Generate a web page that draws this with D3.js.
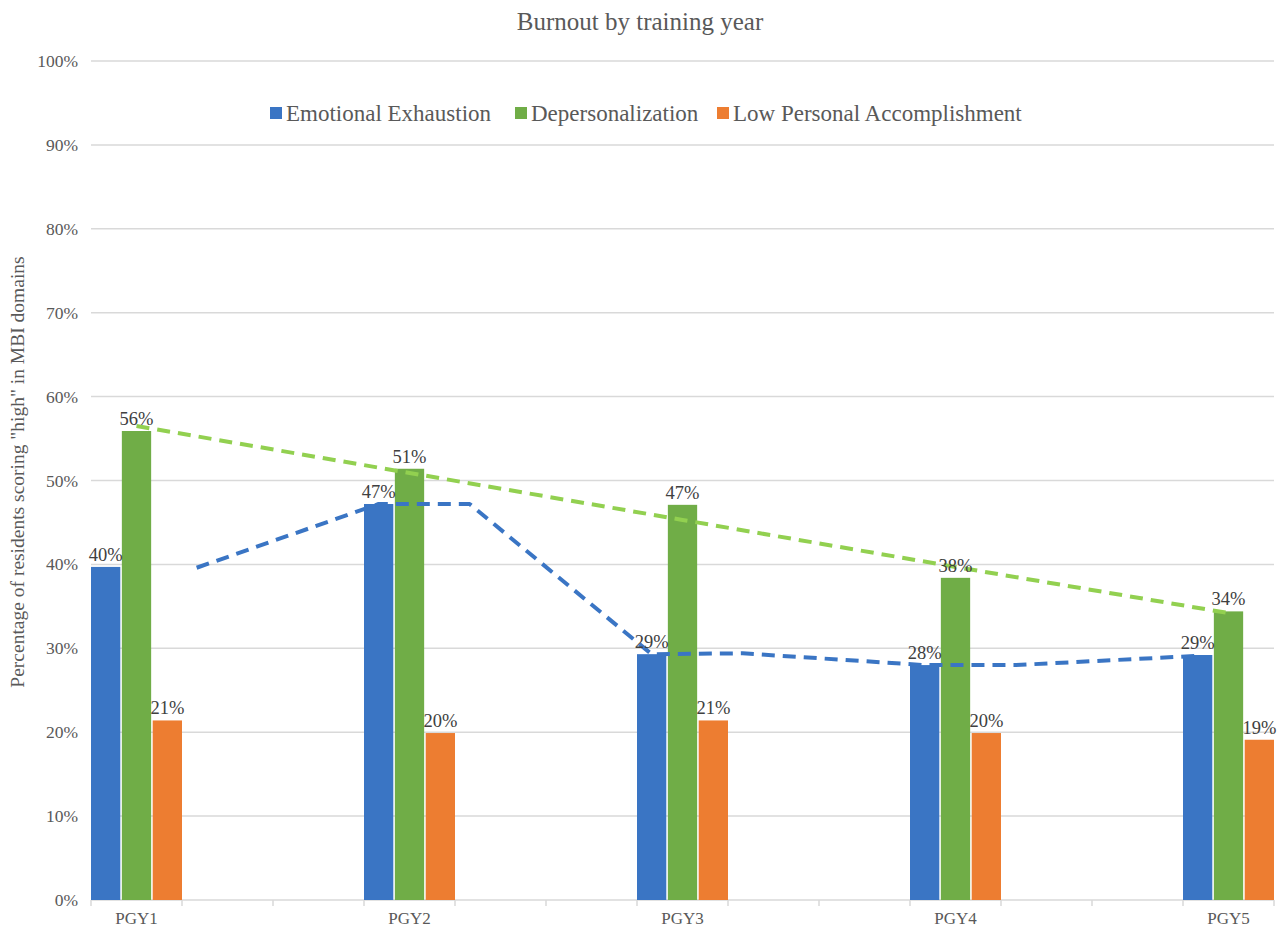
<!DOCTYPE html>
<html><head><meta charset="utf-8">
<script src="https://cdn.jsdelivr.net/npm/d3@7"></script>
<style>body{margin:0;background:#fff;} svg{display:block;font-family:"Liberation Serif","Times New Roman",serif;}</style>
</head><body><svg id="c" width="1284" height="929"></svg>
<script>
// Category slots on the x axis (blank slots between training years)
const slots = ["PGY1","","","PGY2","","","PGY3","","","PGY4","","","PGY5"];
const years = ["PGY1","PGY2","PGY3","PGY4","PGY5"];
const seriesNames = ["Emotional Exhaustion","Depersonalization","Low Personal Accomplishment"];
const emotionalExhaustion = [39.7, 47.2, 29.3, 28.0, 29.2];
const depersonalization = [55.9, 51.4, 47.1, 38.4, 34.4];
const lowAccomplishment = [21.4, 19.9, 21.4, 19.9, 19.1];
const yTicks = [0,10,20,30,40,50,60,70,80,90,100];
// Dashed lines: slot index + value
const eeLineSlots = [1, 3, 4, 6, 7, 9, 10, 12];
const eeLineValues = [39.6, 47.2, 47.2, 29.3, 29.4, 28.0, 28.0, 29.1];
const dpLineSlots = [0, 3, 6, 9, 12];
const dpLineValues = [56.5, 50.9, 45.3, 39.7, 34.2];

const colors = ["#3a75c4", "#70ad47", "#ed7d31"];
const lineColors = ["#3a75c4", "#92d050"];
const values = [emotionalExhaustion, depersonalization, lowAccomplishment];

const svg = d3.select("#c");
const x = d3.scaleBand().domain(d3.range(slots.length)).range([91, 1274]).padding(0);
const y = d3.scaleLinear().domain([0, 100]).range([900, 61]);
const xi = d3.scaleBand().domain(d3.range(3)).range([0, x.bandwidth()]).paddingInner(0.05);

// gridlines
svg.append("g").selectAll("line").data(yTicks.filter(d => d > 0)).join("line")
  .attr("x1", 91).attr("x2", 1274).attr("y1", d => y(d)).attr("y2", d => y(d))
  .attr("stroke", "#d9d9d9").attr("stroke-width", 1.5);

// y axis labels
svg.append("g").selectAll("text").data(yTicks).join("text")
  .attr("x", 78).attr("y", d => y(d) + 6).attr("text-anchor", "end")
  .attr("font-size", 17.5).attr("fill", "#595959").text(d => d + "%");

// x axis line + ticks
svg.append("line").attr("x1", 91).attr("x2", 1274).attr("y1", 900).attr("y2", 900)
  .attr("stroke", "#d9d9d9").attr("stroke-width", 1.5);
svg.append("g").selectAll("line").data(d3.range(slots.length + 1)).join("line")
  .attr("x1", d => 91 + d * x.bandwidth()).attr("x2", d => 91 + d * x.bandwidth())
  .attr("y1", 900).attr("y2", 906).attr("stroke", "#d9d9d9").attr("stroke-width", 1.5);
svg.append("g").selectAll("text").data(slots.map((s, i) => ({s, i})).filter(d => d.s)).join("text")
  .attr("x", d => x(d.i) + x.bandwidth() / 2).attr("y", 924).attr("text-anchor", "middle")
  .attr("font-size", 17).attr("fill", "#595959").text(d => d.s);

// bars
const yearSlot = years.map(yr => slots.indexOf(yr));
values.forEach((vals, si) => {
  const g = svg.append("g");
  g.selectAll("rect").data(vals).join("rect")
    .attr("x", (d, i) => x(yearSlot[i]) + xi(si)).attr("width", xi.bandwidth())
    .attr("y", d => y(d)).attr("height", d => 900 - y(d)).attr("fill", colors[si]);
});

// dashed lines
const lineGen = d3.line().curve(d3.curveLinear);
function drawLine(slotsArr, vals, si, color) {
  const pts = slotsArr.map((s, i) => [x(s) + xi(si) + xi.bandwidth() / 2, y(vals[i])]);
  svg.append("path").attr("d", lineGen(pts)).attr("fill", "none").attr("stroke", color)
    .attr("stroke-width", 4).attr("stroke-dasharray", "13,8").attr("stroke-linejoin", "round");
}
drawLine(eeLineSlots, eeLineValues, 0, lineColors[0]);
drawLine(dpLineSlots, dpLineValues, 1, lineColors[1]);

// data labels
values.forEach((vals, si) => {
  svg.append("g").selectAll("text").data(vals).join("text")
    .attr("x", (d, i) => x(yearSlot[i]) + xi(si) + xi.bandwidth() / 2)
    .attr("y", d => y(d) - 6).attr("text-anchor", "middle")
    .attr("font-size", 18.5).attr("fill", "#404040").text(d => Math.round(d) + "%");
});

// title
svg.append("text").attr("x", 640).attr("y", 30).attr("text-anchor", "middle")
  .attr("font-size", 25).attr("fill", "#595959").text("Burnout by training year");

// y axis title
svg.append("text").attr("transform", "translate(24,472) rotate(-90)").attr("text-anchor", "middle")
  .attr("font-size", 19.5).attr("fill", "#595959")
  .text('Percentage of residents scoring "high" in MBI domains');

// legend
const legX = [270, 515, 717];
seriesNames.forEach((n, i) => {
  svg.append("rect").attr("x", legX[i]).attr("y", 107).attr("width", 12).attr("height", 12).attr("fill", colors[i]);
  svg.append("text").attr("x", legX[i] + 16).attr("y", 121).attr("font-size", 23).attr("fill", "#595959").text(n);
});
</script></body></html>
